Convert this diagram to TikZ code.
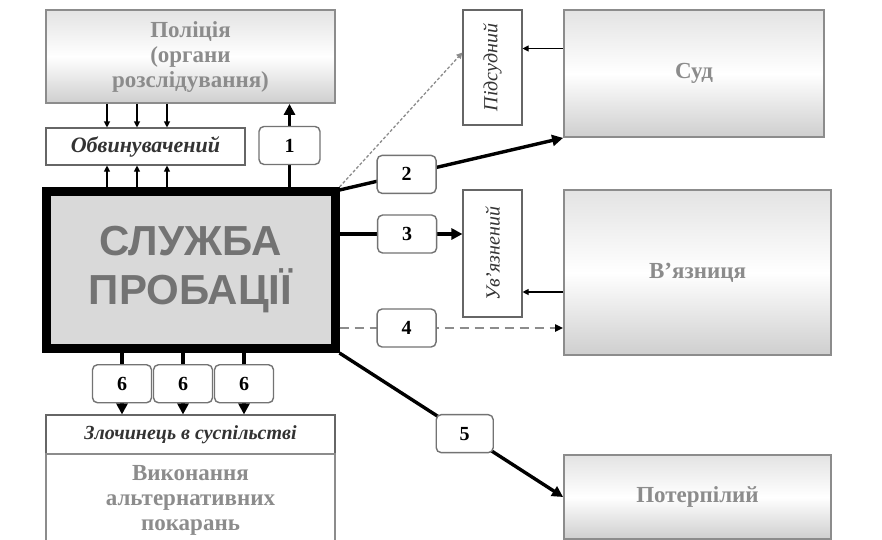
\documentclass[tikz,border=0pt]{standalone}
\usepackage{fontspec}
\setmainfont{Liberation Serif}
\setsansfont{Liberation Sans}
\usetikzlibrary{arrows.meta}

\begin{document}
\begin{tikzpicture}[x=1pt,y=-1pt,
    titlebox/.style={draw=black!45,line width=1.8pt,inner sep=0pt,align=center,
        text=black!45,font=\bfseries\fontsize{23}{25}\selectfont},
    shadedbox/.style={titlebox,top color=black!11,bottom color=black!19,middle color=white},
    smallbox/.style={draw=black!60,line width=1.1pt,fill=white,inner sep=0pt,align=center,
        text=black!80,font=\bfseries\itshape\fontsize{21}{23}\selectfont},
    numbox/.style={draw=black!55,solid,line width=1.4pt,fill=white,rounded corners=5pt,
        minimum width=59pt,minimum height=38pt,text=black,font=\bfseries\fontsize{20}{22}\selectfont},
    bold arrow/.style={line width=3.4pt,-{Triangle[length=11pt,width=11pt]}},
    thin arrow/.style={line width=1.1pt,-{Triangle[length=6pt,width=6pt]}}]
    \fill[white] (0,0) rectangle (882,539);
    \useasboundingbox (0,0) rectangle (882,539);

    % left column
    \node[shadedbox,minimum width=289pt,minimum height=93pt] (police) at (190.5,56.5) {Поліція\\(органи\\розслідування)};
    \node[smallbox,font=\bfseries\itshape\fontsize{22}{24}\selectfont,minimum width=199pt,minimum height=37pt] (accused) at (145.5,146.5) {Обвинувачений};
    \node[draw=black,line width=9pt,fill=black!15,minimum width=289pt,minimum height=157pt,inner sep=0pt,
        align=center,text=black!55,font=\sffamily\bfseries\fontsize{42}{49}\selectfont] (probation) at (190.5,270) {СЛУЖБА\\ПРОБАЦІЇ};
    \node[smallbox,font=\bfseries\itshape\fontsize{20}{22}\selectfont,minimum width=289pt,minimum height=39pt] (society) at (190.5,434.5) {Злочинець в суспільстві};
    \node[titlebox,fill=white,minimum width=289pt,minimum height=92pt] (penalties) at (190.5,500) {Виконання\\альтернативних\\покарань};

    % right column
    \node[smallbox,font=\itshape\fontsize{20}{22}\selectfont,minimum width=59pt,minimum height=115pt] (defendant) at (492.5,67.5) {\rotatebox{90}{Підсудний}};
    \node[smallbox,font=\itshape\fontsize{20}{22}\selectfont,minimum width=59pt,minimum height=127pt] (prisoner) at (492.5,253.5) {\rotatebox{90}{Ув’язнений}};
    \node[shadedbox,minimum width=260pt,minimum height=127pt] (court) at (694,73.5) {Суд};
    \node[shadedbox,minimum width=267pt,minimum height=165pt] (prison) at (697.5,272.5) {В’язниця};
    \node[shadedbox,minimum width=267pt,minimum height=84pt] (victim) at (697.5,497) {Потерпілий};

    % police / accused
    \foreach \dx in {-83.5,-53.5,-23.5} {
        \draw[thin arrow] ([xshift=\dx pt]police.south) -- ([xshift=\dx pt]police.south |- accused.north);
        \draw[thin arrow] ([xshift=\dx pt]probation.north) -- ([xshift=\dx pt]probation.north |- accused.south);
    }
    \draw[bold arrow] ([xshift=99pt]probation.north) -- node[numbox,minimum width=61pt] (n1) {1} ([xshift=99pt]police.south);

    % court and prison
    \draw[black!45,line width=1.3pt,dash pattern=on 3pt off 2pt,-{Triangle[length=6pt,width=6pt]}]
        (probation.north east) -- ([yshift=15pt]defendant.west);
    \draw[thin arrow] ([yshift=25pt]court.west) -- ([yshift=25pt]court.west -| defendant.east);
    \draw[bold arrow] ([yshift=-3pt]probation.north east) -- node[numbox,pos=0.3] (n2) {2} (court.south west);
    \draw[bold arrow] ([yshift=36pt]probation.east) -- node[numbox,pos=0.55] (n3) {3} ([yshift=36pt]probation.east -| prisoner.west);
    \draw[thin arrow] ([yshift=-19.5pt]prison.west) -- ([yshift=-19.5pt]prison.west -| prisoner.east);
    \draw[black!45,line width=2pt,dash pattern=on 9pt off 6pt,-{Triangle[length=8pt,width=7pt,black]}]
        ([yshift=-58pt]probation.east) -- node[numbox,pos=0.3] (n4) {4} ([yshift=-58pt]probation.east -| prison.west);
    \draw[bold arrow] (probation.south east) -- node[numbox,pos=0.56,minimum width=57pt] (n5) {5} (victim.west);

    % society
    \foreach \dx/\nm in {-68.5/a,-7.5/b,53.5/c}
        \draw[bold arrow] ([xshift=\dx pt]probation.south) -- node[numbox] (n6\nm) {6} ([xshift=\dx pt]probation.south |- society.north);
\end{tikzpicture}
\end{document}
